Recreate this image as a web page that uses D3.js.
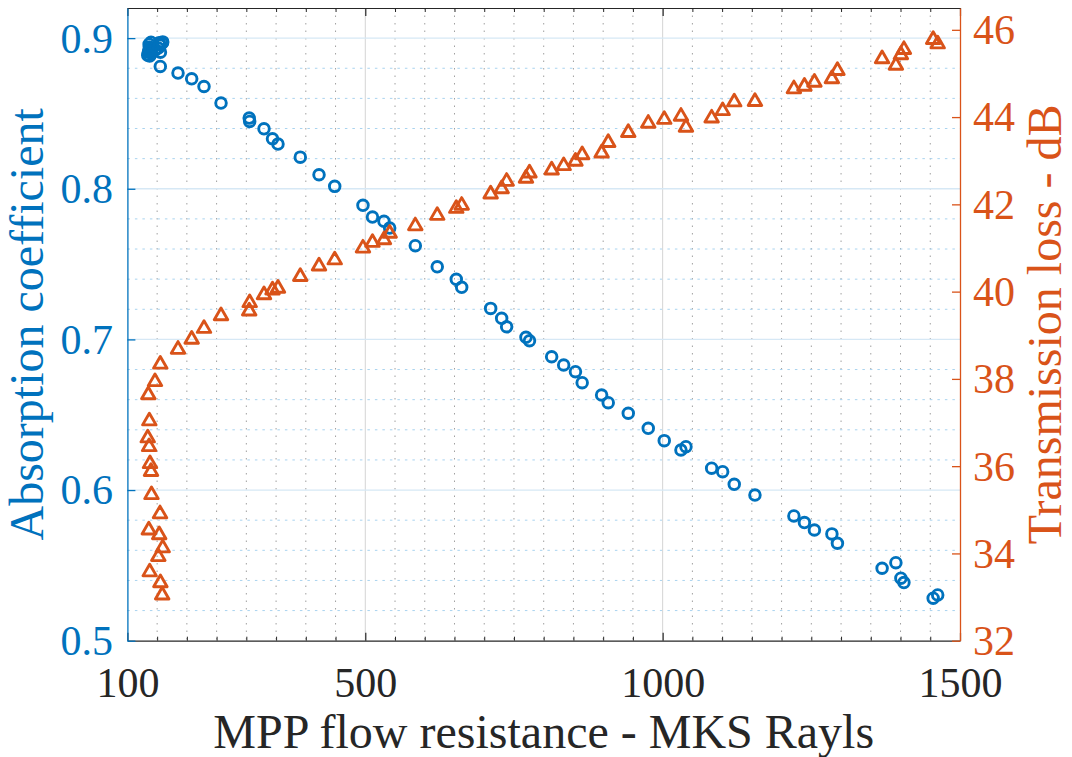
<!DOCTYPE html>
<html>
<head>
<meta charset="utf-8">
<script src="https://cdn.jsdelivr.net/npm/d3@7"></script>
<style>
  html, body { margin: 0; padding: 0; background: #fff; }
  svg { display: block; }
  text { font-family: "Liberation Serif", "Times New Roman", Times, serif; }
</style>
</head>
<body>
<svg id="chart" width="1072" height="757"></svg>
<script>
// MPP samples: flow resistance (MKS Rayls), absorption coefficient, transmission loss (dB)
const flowResistance = [
  155.3, 146.4, 135.2, 136.9, 134.2, 136.5, 138.0, 139.7, 140.5, 154.8, 136.0, 153.5, 159.4, 152.0, 137.5, 155.5, 158.5,
  185.1, 208.1, 228.8, 257.4, 304.8, 305.6, 329.7, 344.0, 353.2, 390.7, 422.2, 448.6, 496.1, 512.1, 531.4, 541.0,
  584.1, 621.0, 653.0, 662.1, 710.8, 729.3, 737.7, 770.2, 776.1, 813.4, 833.6, 853.4, 864.7, 897.4, 908.5, 942.2,
  975.8, 1002.7, 1030.8, 1039.2, 1082.4, 1100.9, 1120.4, 1155.2, 1220.7, 1238.4, 1255.2, 1284.6, 1293.9, 1369.0,
  1392.2, 1400.6, 1405.7, 1454.9, 1462.5
];
const absorption = [
  0.8812, 0.8920, 0.8907, 0.8940, 0.8887, 0.8960, 0.8927, 0.8973, 0.8900, 0.8954, 0.8914, 0.8970, 0.8975, 0.8934, 0.8881, 0.8907, 0.8967,
  0.8768, 0.8730, 0.8679, 0.8569, 0.8469, 0.8447, 0.8398, 0.8332, 0.8297, 0.8210, 0.8093, 0.8016, 0.7890, 0.7812, 0.7784, 0.7739,
  0.7622, 0.7482, 0.7399, 0.7346, 0.7206, 0.7140, 0.7084, 0.7014, 0.6991, 0.6885, 0.6830, 0.6786, 0.6713, 0.6631, 0.6580, 0.6510,
  0.6410, 0.6328, 0.6266, 0.6288, 0.6145, 0.6122, 0.6038, 0.5967, 0.5828, 0.5784, 0.5735, 0.5709, 0.5647, 0.5481,
  0.5518, 0.5415, 0.5386, 0.5282, 0.5304
];
const transmissionLoss = [
  38.38, 37.98, 37.68, 37.08, 36.69, 36.49, 36.10, 35.92, 35.39, 34.95, 34.58, 34.47, 34.17, 33.97, 33.62, 33.37, 33.09,
  38.72, 38.95, 39.20, 39.49, 39.60, 39.79, 39.97, 40.08, 40.12, 40.39, 40.63, 40.77, 41.04, 41.17, 41.23, 41.38,
  41.55, 41.79, 41.95, 42.02, 42.28, 42.40, 42.57, 42.64, 42.76, 42.83, 42.93, 43.03, 43.18, 43.22, 43.46, 43.69,
  43.90, 43.99, 44.06, 43.81, 44.02, 44.19, 44.39, 44.40, 44.69, 44.75, 44.84, 44.92, 45.11, 45.38,
  45.23, 45.47, 45.59, 45.82, 45.72
];

const xTicks = [100, 500, 1000, 1500];
const absTicks = [0.5, 0.6, 0.7, 0.8, 0.9];
const tlTicks = [32, 34, 36, 38, 40, 42, 44, 46];
const xLabel = "MPP flow resistance - MKS Rayls";
const absLabel = "Absorption coefficient";
const tlLabel = "Transmission loss - dB";

(function draw() {
  const BLUE = "#0072BD";
  const ORANGE = "#D95319";
  const DARK = "#262626";

  const svg = d3.select("#chart");
  svg.append("rect").attr("width", 1072).attr("height", 757).attr("fill", "#fff");

  const pLeft = 127.4, pRight = 960, pTop = 8, pBottom = 640.7;

  const x = d3.scaleLinear().domain([100, 1500]).range([pLeft, pRight]);
  const yL = d3.scaleLinear().domain([0.5, 0.92]).range([pBottom, pTop]);
  const yR = d3.scaleLinear().domain([32, 46.5]).range([pBottom, pTop]);

  const xMinor = d3.range(150, 1500, 50).filter(v => !xTicks.includes(v));
  const yMinor = d3.range(0.52, 0.92, 0.02).map(v => +v.toFixed(2)).filter(v => !absTicks.includes(v));

  // grid
  const grid = svg.append("g");
  grid.selectAll(".vminor").data(xMinor).join("line")
    .attr("x1", d => x(d)).attr("x2", d => x(d)).attr("y1", pTop).attr("y2", pBottom)
    .attr("stroke", "#a0a0a0").attr("stroke-width", 1).attr("stroke-dasharray", "1.5,6");
  grid.selectAll(".hminor").data(yMinor).join("line")
    .attr("x1", pLeft).attr("x2", pRight).attr("y1", d => yL(d)).attr("y2", d => yL(d))
    .attr("stroke", "#a9d3ef").attr("stroke-width", 1).attr("stroke-dasharray", "2.5,5");
  grid.selectAll(".vmajor").data(xTicks.filter(v => v > 100 && v < 1500)).join("line")
    .attr("x1", d => x(d)).attr("x2", d => x(d)).attr("y1", pTop).attr("y2", pBottom)
    .attr("stroke", "#d4d4d4").attr("stroke-width", 1);
  grid.selectAll(".hmajor").data(absTicks.filter(v => v > 0.5)).join("line")
    .attr("x1", pLeft).attr("x2", pRight).attr("y1", d => yL(d)).attr("y2", d => yL(d))
    .attr("stroke", "#d6e8f5").attr("stroke-width", 1.3);

  // axes
  const fontTick = 42;

  const xAxis = svg.append("g").attr("transform", `translate(0,${pBottom})`)
    .call(d3.axisBottom(x).tickValues(xTicks).tickSizeInner(-8).tickSizeOuter(0).tickFormat(d3.format("d")));
  xAxis.select(".domain").attr("stroke", DARK).attr("stroke-width", 1.2);
  xAxis.selectAll(".tick line").attr("stroke", DARK).attr("stroke-width", 1.2);
  xAxis.selectAll(".tick text").attr("y", 56.5).attr("dy", 0)
    .attr("fill", DARK).style("font-size", fontTick + "px");

  const xAxisMinor = svg.append("g").attr("transform", `translate(0,${pBottom})`)
    .call(d3.axisBottom(x).tickValues(xMinor).tickSizeInner(-4).tickSizeOuter(0).tickFormat(""));
  xAxisMinor.select(".domain").remove();
  xAxisMinor.selectAll(".tick line").attr("stroke", DARK).attr("stroke-width", 1);

  const xTop = svg.append("g").attr("transform", `translate(0,${pTop})`)
    .call(d3.axisTop(x).tickValues(xTicks).tickSizeInner(-8).tickSizeOuter(0).tickFormat(""));
  xTop.select(".domain").attr("stroke", DARK).attr("stroke-width", 1.2);
  xTop.selectAll(".tick line").attr("stroke", DARK).attr("stroke-width", 1.2);
  const xTopMinor = svg.append("g").attr("transform", `translate(0,${pTop})`)
    .call(d3.axisTop(x).tickValues(xMinor).tickSizeInner(-4).tickSizeOuter(0).tickFormat(""));
  xTopMinor.select(".domain").remove();
  xTopMinor.selectAll(".tick line").attr("stroke", DARK).attr("stroke-width", 1);

  const yAxisL = svg.append("g").attr("transform", `translate(${pLeft},0)`)
    .call(d3.axisLeft(yL).tickValues(absTicks).tickSizeInner(-8).tickSizeOuter(0).tickPadding(14.5).tickFormat(d3.format(".1f")));
  yAxisL.select(".domain").attr("stroke", BLUE).attr("stroke-width", 1.3);
  yAxisL.selectAll(".tick line").attr("stroke", BLUE).attr("stroke-width", 1.3);
  yAxisL.selectAll(".tick text").attr("dy", "0.33em").attr("fill", BLUE).style("font-size", fontTick + "px");

  const yAxisR = svg.append("g").attr("transform", `translate(${pRight},0)`)
    .call(d3.axisRight(yR).tickValues(tlTicks).tickSizeInner(-8).tickSizeOuter(0).tickPadding(13).tickFormat(d3.format("d")));
  yAxisR.select(".domain").attr("stroke", ORANGE).attr("stroke-width", 1.3);
  yAxisR.selectAll(".tick line").attr("stroke", ORANGE).attr("stroke-width", 1.3);
  yAxisR.selectAll(".tick text").attr("dy", "0.33em").attr("fill", ORANGE).style("font-size", fontTick + "px");

  // axis titles
  const fontTitle = 48;
  svg.append("text").attr("x", (pLeft + pRight) / 2).attr("y", 748)
    .attr("text-anchor", "middle").attr("fill", DARK).style("font-size", fontTitle + "px").text(xLabel);
  svg.append("text").attr("transform", `translate(43,${(pTop + pBottom) / 2}) rotate(-90)`)
    .attr("text-anchor", "middle").attr("fill", BLUE).style("font-size", fontTitle + "px").text(absLabel);
  svg.append("text").attr("transform", `translate(1061,${(pTop + pBottom) / 2}) rotate(-90)`)
    .attr("text-anchor", "middle").attr("fill", ORANGE).style("font-size", fontTitle + "px").text(tlLabel);

  // markers
  const pts = flowResistance.map((v, i) => ({ v, a: absorption[i], t: transmissionLoss[i] }));

  svg.append("g").selectAll("circle").data(pts).join("circle")
    .attr("cx", d => x(d.v)).attr("cy", d => yL(d.a)).attr("r", 5.3)
    .attr("fill", "none").attr("stroke", BLUE).attr("stroke-width", 2.9);

  const triH = 11.7, triW = 13.5;
  const triPath = `M0,${-triH / 2}L${triW / 2},${triH / 2}L${-triW / 2},${triH / 2}Z`;
  svg.append("g").selectAll("path").data(pts).join("path")
    .attr("d", triPath)
    .attr("transform", d => `translate(${x(d.v)},${yR(d.t)})`)
    .attr("fill", "none").attr("stroke", ORANGE).attr("stroke-width", 2.9).attr("stroke-linejoin", "round");
})();
</script>
</body>
</html>
